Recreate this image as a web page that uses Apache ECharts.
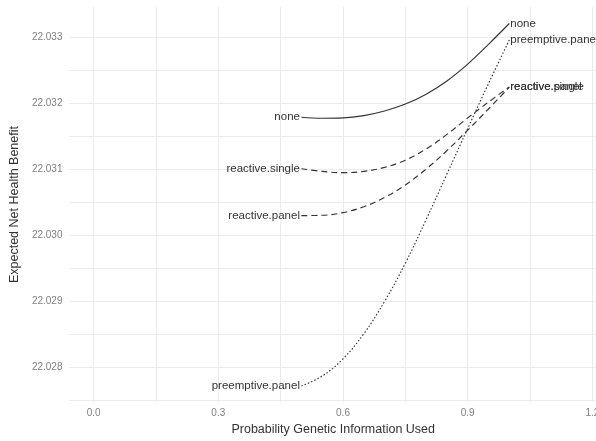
<!DOCTYPE html>
<html>
<head>
<meta charset="utf-8">
<script src="https://cdn.jsdelivr.net/npm/echarts@6/dist/echarts.min.js"></script>
<style>
html,body{margin:0;padding:0;background:#fff;overflow:hidden;width:596px;height:441px;}
#chart{width:612px;height:441px;}
</style>
</head>
<body>
<div id="chart"></div>
<script>
// ---- data ----
const xValues = [0.50, 0.55, 0.60, 0.65, 0.70, 0.75, 0.80, 0.85, 0.90, 0.95, 1.00];
const noneValues = [22.03179, 22.031775, 22.03178, 22.031815, 22.031885, 22.03199, 22.03214, 22.03234, 22.032595, 22.032895, 22.03321];
const reactiveSingleValues = [22.03101, 22.03097, 22.03095, 22.03097, 22.03103, 22.03114, 22.03131, 22.03153, 22.03178, 22.03202, 22.03225];
const reactivePanelValues = [22.03030, 22.030305, 22.030345, 22.030435, 22.030575, 22.030765, 22.031005, 22.031285, 22.031595, 22.031915, 22.032245];
const preemptivePanelValues = [22.02772, 22.02787, 22.02813, 22.02851, 22.02900, 22.02958, 22.03024, 22.03093, 22.03162, 22.03230, 22.03296];
const seriesNames = ['none', 'reactive.single', 'reactive.panel', 'preemptive.panel'];
const xTickLabels = [0.0, 0.3, 0.6, 0.9, 1.2];
const xGridValues = [0.0, 0.15, 0.3, 0.45, 0.6, 0.75, 0.9, 1.05, 1.2];
const yTickLabels = [22.028, 22.029, 22.030, 22.031, 22.032, 22.033];
const yGridValues = [22.0275, 22.028, 22.0285, 22.029, 22.0295, 22.030, 22.0305, 22.031, 22.0315, 22.032, 22.0325, 22.033];

// ---- styles ----
const FONT = 'Liberation Sans, Arial, Helvetica, sans-serif';
const lineTypes = ['solid', [6, 4], [6, 4], [1.5, 2]];
const allValues = [noneValues, reactiveSingleValues, reactivePanelValues, preemptivePanelValues];

function buildSeries(i) {
  const vals = allValues[i];
  const name = seriesNames[i];
  const data = xValues.map((x, k) => {
    if (k === 0) {
      return {
        value: [x, vals[k]],
        symbol: 'circle',
        symbolSize: 1,
        itemStyle: {color: 'transparent', borderWidth: 0},
        label: {
          show: true, position: 'left', distance: 1,
          formatter: name, color: '#333', fontSize: 11.5, fontFamily: FONT
        }
      };
    }
    return [x, vals[k]];
  });
  return {
    name: name,
    type: 'line',
    data: data,
    smooth: 0.4,
    symbol: 'none',
    showSymbol: true,
    silent: true,
    clip: false,
    lineStyle: {color: '#333', width: 1.15, type: lineTypes[i], cap: 'butt'},
    emphasis: {disabled: true},
    endLabel: {
      show: true, formatter: name, distance: 1,
      color: '#333', fontSize: 11.5, fontFamily: FONT
    },
    labelLayout: {hideOverlap: false}
  };
}

const chart = echarts.init(document.getElementById('chart'), null, {renderer: 'canvas'});
chart.setOption({
  animation: false,
  backgroundColor: '#ffffff',
  grid: {left: 69, right: 15, top: 7, bottom: 38, containLabel: false},
  xAxis: {
    type: 'value',
    min: -0.058,
    max: 1.211,
    name: 'Probability Genetic Information Used',
    nameLocation: 'middle',
    nameGap: 19,
    nameTextStyle: {color: '#333', fontSize: 12.5, fontFamily: FONT},
    axisLine: {show: false},
    axisTick: {show: false, customValues: xGridValues},
    axisLabel: {
      customValues: xTickLabels,
      formatter: v => Number(v).toFixed(1),
      color: '#7f7f7f', fontSize: 10, fontFamily: FONT, margin: 6
    },
    splitLine: {show: true, lineStyle: {color: '#ebebeb', width: 1}}
  },
  yAxis: {
    type: 'value',
    min: 22.027475,
    max: 22.03346,
    name: 'Expected Net Health Benefit',
    nameLocation: 'middle',
    nameRotate: 90,
    nameGap: 47,
    nameTextStyle: {color: '#333', fontSize: 12.5, fontFamily: FONT},
    axisLine: {show: false},
    axisTick: {show: false, customValues: yGridValues},
    axisLabel: {
      customValues: yTickLabels,
      formatter: v => Number(v).toFixed(3),
      color: '#7f7f7f', fontSize: 10, fontFamily: FONT, margin: 7
    },
    splitLine: {show: true, lineStyle: {color: '#ebebeb', width: 1}}
  },
  series: seriesNames.map((n, i) => buildSeries(i))
});
</script>
</body>
</html>
